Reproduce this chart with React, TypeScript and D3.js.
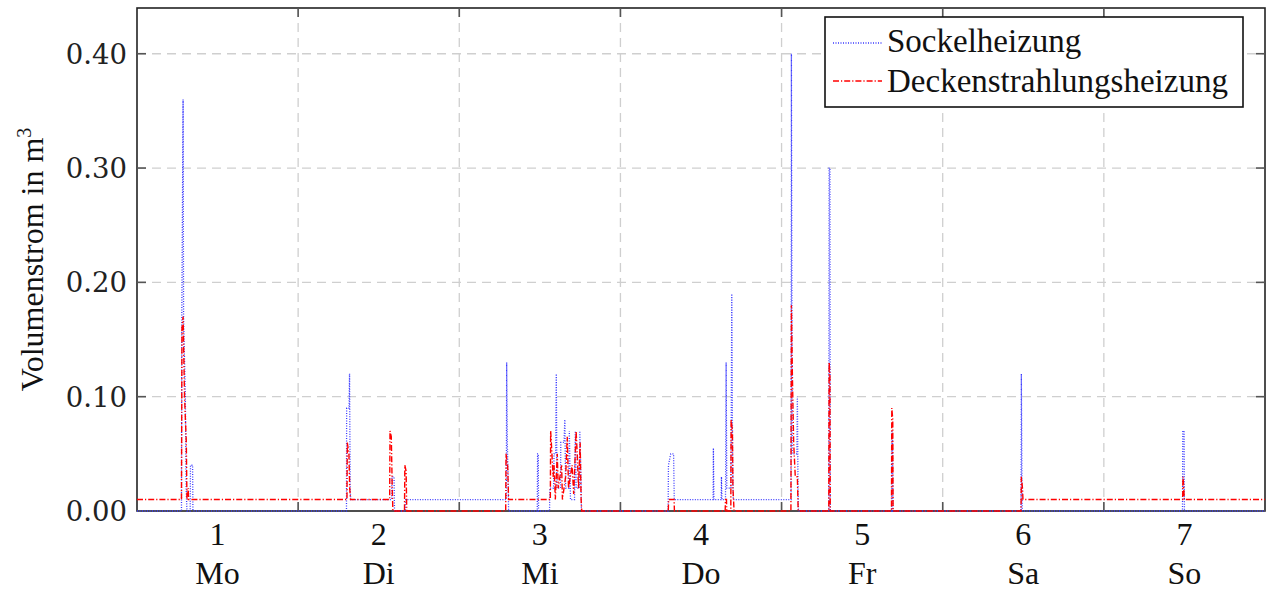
import * as d3 from 'd3';

// time axis in days (1 = Monday), values in m³
const dayNumbers = [1, 2, 3, 4, 5, 6, 7];
const dayNames = ['Mo', 'Di', 'Mi', 'Do', 'Fr', 'Sa', 'So'];
const dayBoundaries = [1.5, 2.5, 3.5, 4.5, 5.5, 6.5];
const yTicks = [0, 0.1, 0.2, 0.3, 0.4];

const sockelheizung: [number, number][] = [
  [0.5, 0],
  [0.776, 0], [0.778, 0.17], [0.786, 0.36], [0.789, 0.17], [0.8, 0.1], [0.805, 0.02], [0.81, 0],
  [0.83, 0], [0.832, 0.04], [0.845, 0.04], [0.847, 0],
  [1.8, 0], [1.801, 0.09], [1.816, 0.09], [1.819, 0.12], [1.823, 0.02], [1.826, 0.01],
  [2.08, 0.01], [2.082, 0.03], [2.095, 0.03], [2.098, 0],
  [2.165, 0], [2.167, 0.01],
  [2.792, 0.01], [2.794, 0.13], [2.798, 0.06], [2.803, 0.03], [2.806, 0],
  [2.984, 0], [2.986, 0.05], [2.99, 0.05], [2.992, 0],
  [3.06, 0], [3.062, 0.02], [3.085, 0.02], [3.088, 0.05], [3.098, 0.05], [3.102, 0.12], [3.106, 0.02],
  [3.128, 0.02], [3.13, 0.06], [3.15, 0.06], [3.155, 0.08], [3.16, 0.02], [3.18, 0.02], [3.183, 0.07],
  [3.19, 0.01], [3.215, 0.01], [3.22, 0.07], [3.226, 0.02], [3.245, 0.02], [3.248, 0.07], [3.255, 0.03], [3.258, 0],
  [3.796, 0], [3.798, 0.04], [3.812, 0.05], [3.83, 0.05], [3.834, 0.01],
  [4.075, 0.01], [4.077, 0.055], [4.08, 0.01],
  [4.125, 0.01], [4.127, 0.03], [4.13, 0.01],
  [4.152, 0.01], [4.156, 0.13], [4.16, 0.02], [4.186, 0.02], [4.191, 0.19], [4.196, 0.05], [4.2, 0.01],
  [4.559, 0.01], [4.561, 0.4], [4.566, 0.05], [4.595, 0.05], [4.598, 0.1], [4.602, 0.02], [4.605, 0],
  [4.793, 0], [4.795, 0.3], [4.8, 0.3], [4.802, 0],
  [5.183, 0], [5.185, 0.07], [5.189, 0.06], [5.191, 0],
  [5.986, 0], [5.988, 0.12], [5.992, 0.02], [5.994, 0],
  [6.988, 0], [6.99, 0.07], [6.998, 0.07], [7.0, 0],
  [7.5, 0],
];

const deckenstrahlungsheizung: [number, number][] = [
  [0.5, 0.01],
  [0.776, 0.01], [0.779, 0.16], [0.786, 0.17], [0.795, 0.1], [0.806, 0.06], [0.81, 0.01],
  [0.815, 0.01], [0.817, 0.02], [0.821, 0.01],
  [1.803, 0.01], [1.805, 0.06], [1.815, 0.05], [1.82, 0.02], [1.825, 0.01],
  [2.068, 0.01], [2.07, 0.07], [2.078, 0.065], [2.084, 0.02], [2.088, 0],
  [2.16, 0], [2.162, 0.04], [2.17, 0.035], [2.174, 0],
  [2.788, 0], [2.79, 0.05], [2.8, 0.04], [2.806, 0.01],
  [3.065, 0.01], [3.067, 0.07], [3.075, 0.05], [3.082, 0.03], [3.088, 0.04], [3.096, 0.01], [3.108, 0.05],
  [3.114, 0.02], [3.135, 0.04], [3.14, 0.01], [3.16, 0.03], [3.17, 0.065], [3.178, 0.02], [3.2, 0.04],
  [3.21, 0.015], [3.225, 0.07], [3.232, 0.05], [3.24, 0.02], [3.25, 0.06], [3.256, 0.01], [3.26, 0],
  [3.797, 0], [3.799, 0.01], [3.833, 0.01], [3.835, 0],
  [4.15, 0], [4.152, 0.01], [4.158, 0.01], [4.16, 0],
  [4.185, 0], [4.187, 0.08], [4.195, 0.07], [4.198, 0.02], [4.202, 0.01], [4.205, 0],
  [4.558, 0], [4.561, 0.18], [4.567, 0.12], [4.575, 0.06], [4.585, 0.03], [4.598, 0.03], [4.603, 0],
  [4.793, 0], [4.795, 0.13], [4.8, 0.12], [4.802, 0],
  [5.182, 0], [5.184, 0.09], [5.19, 0.08], [5.192, 0],
  [5.986, 0], [5.988, 0.03], [5.995, 0.02], [5.998, 0.01],
  [6.989, 0.01], [6.991, 0.03], [6.996, 0.02], [6.999, 0.01],
  [7.5, 0.01],
];

const WIDTH = 1268;
const HEIGHT = 590;
const margin = { top: 8, right: 3, bottom: 79, left: 137 };
const serif = '"Times New Roman", Tinos, "Liberation Serif", Times, serif';

export default function App() {
  const x = d3.scaleLinear().domain([0.5, 7.5]).range([margin.left, WIDTH - margin.right]);
  const y = d3.scaleLinear().domain([0, 0.44]).range([HEIGHT - margin.bottom, margin.top]);
  const line = d3.line<[number, number]>().x(d => x(d[0])).y(d => y(d[1]));

  const x0 = x.range()[0];
  const x1 = x.range()[1];
  const yBottom = y.range()[0];
  const yTop = y.range()[1];
  const tick = 9;

  const blueStyle = { stroke: '#3a3aff', strokeWidth: 1.3, dash: '1 1.5' };
  const redStyle = { stroke: '#ff0000', strokeWidth: 1.4, dash: '6 2 1.2 2' };

  return (
    <svg width={WIDTH} height={HEIGHT} style={{ position: 'absolute', left: 0, top: 0, background: '#fff' }}>
      <defs>
        <clipPath id="plot-area">
          <rect x={x0} y={yTop - 2} width={x1 - x0} height={yBottom - yTop + 4} />
        </clipPath>
      </defs>

      {/* grid */}
      <g stroke="#cfcfcf" strokeWidth={1.3} strokeDasharray="9 6">
        {yTicks.slice(1).map(v => (
          <line key={'gy' + v} x1={x0} x2={x1} y1={y(v)} y2={y(v)} />
        ))}
        {dayBoundaries.map(d => (
          <line key={'gx' + d} x1={x(d)} x2={x(d)} y1={yTop} y2={yBottom} />
        ))}
      </g>

      {/* frame and ticks */}
      <rect x={x0} y={yTop} width={x1 - x0} height={yBottom - yTop} fill="none" stroke="#222" strokeWidth={1.6} />
      <g stroke="#555" strokeWidth={1.6}>
        {yTicks.map(v => (
          <g key={'ty' + v}>
            <line x1={x0} x2={x0 + tick} y1={y(v)} y2={y(v)} />
            <line x1={x1} x2={x1 - tick} y1={y(v)} y2={y(v)} />
          </g>
        ))}
        {dayBoundaries.map(d => (
          <g key={'tx' + d}>
            <line x1={x(d)} x2={x(d)} y1={yBottom} y2={yBottom - tick} />
            <line x1={x(d)} x2={x(d)} y1={yTop} y2={yTop + tick} />
          </g>
        ))}
      </g>

      {/* series */}
      <g clipPath="url(#plot-area)" fill="none">
        <path d={line(sockelheizung) ?? ''} stroke={blueStyle.stroke} strokeWidth={blueStyle.strokeWidth} strokeDasharray={blueStyle.dash} />
        <path d={line(deckenstrahlungsheizung) ?? ''} stroke={redStyle.stroke} strokeWidth={redStyle.strokeWidth} strokeDasharray={redStyle.dash} />
      </g>

      {/* y tick labels */}
      <g fontFamily="DejaVu Serif" fontSize={27.5} fill="#222" textAnchor="end">
        {yTicks.map(v => (
          <text key={'ly' + v} x={x0 - 10} y={y(v)} dy="0.36em">{v.toFixed(2)}</text>
        ))}
      </g>

      {/* x tick labels */}
      <g fontFamily={serif} fontSize={32} fill="#111" textAnchor="middle">
        {dayNumbers.map((d, i) => (
          <g key={'lx' + d}>
            <text x={x(d)} y={545}>{d}</text>
            <text x={x(d)} y={584}>{dayNames[i]}</text>
          </g>
        ))}
      </g>

      {/* y axis title */}
      <text
        transform={`translate(43, ${(yTop + yBottom) / 2}) rotate(-90)`}
        textAnchor="middle"
        fontFamily={serif}
        fontSize={32}
        fill="#111"
      >
        Volumenstrom in m<tspan fontSize={20} dy={-12}>3</tspan>
      </text>

      {/* legend */}
      <g>
        <rect x={825} y={17} width={418} height={90} fill="#fff" stroke="#111" strokeWidth={1.6} />
        <line x1={833} x2={882} y1={43} y2={43} stroke={blueStyle.stroke} strokeWidth={blueStyle.strokeWidth} strokeDasharray={blueStyle.dash} />
        <line x1={833} x2={882} y1={81} y2={81} stroke={redStyle.stroke} strokeWidth={redStyle.strokeWidth} strokeDasharray={redStyle.dash} />
        <text x={887} y={52} fontFamily={serif} fontSize={33} fill="#111">Sockelheizung</text>
        <text x={887} y={92} fontFamily={serif} fontSize={33} fill="#111">Deckenstrahlungsheizung</text>
      </g>
    </svg>
  );
}
